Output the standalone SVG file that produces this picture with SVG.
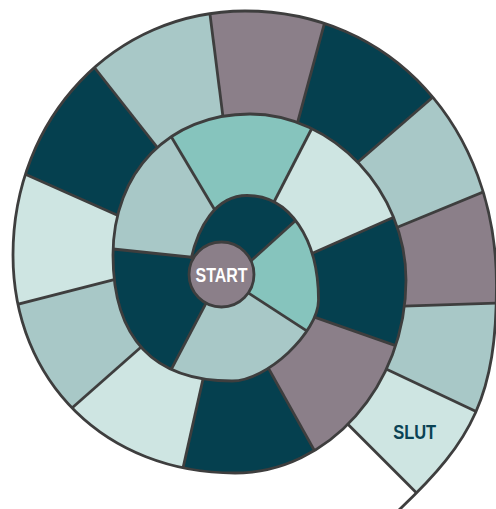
<svg xmlns="http://www.w3.org/2000/svg" width="496" height="509" viewBox="0 0 496 509">
<style>
.dk{fill:#05404f}.tl{fill:#86c4bd}.gt{fill:#a8c8c7}.lt{fill:#cee5e2}.mv{fill:#8b7f89}
.ln{stroke:#3e3e3e;stroke-width:2.8;fill:none;stroke-linejoin:round}
.lbl{font-family:"Liberation Sans",Arial,sans-serif;font-weight:bold;text-anchor:middle}
</style>
<defs>
<clipPath id="c1"><path d="M191,259 C198,228 215,195.5 247,195.5 C289.2,195.5 318.5,238.3 318.5,300 C318.5,332.4 266.6,381 232,381 C153.5,381 113,338.2 113,255 L113,249 L190,257 Z"/></clipPath>
<clipPath id="c2"><path d="M113,255 C113,171.9 169.3,114 250,114 C333.2,114 406,191.5 406,280 C406,385.6 328.5,473 235,473 C106,473 13,381.7 13,255 Z"/></clipPath>
<clipPath id="c3"><path d="M347.9,424.2 C317.6,454.5 278,473 235,473 C106,473 13,381.7 13,255 C13,117.6 114.4,11 245,11 C390.4,11 496.5,126.6 496.5,285 C496.5,386.2 476.6,432.6 416.6,492.9 Z"/></clipPath>
</defs>
<g id="ring3" clip-path="url(#c3)">
<polygon id="t13" class="lt" points="221.5,274.5 131.8,275.2 -263,376 -251,51 135.4,223.2"/>
<polygon id="t14" class="dk" points="221.5,274.5 135.4,223.2 -251,51 -95,-173 169.6,163"/>
<polygon id="t15" class="gt" points="221.5,274.5 169.6,163 -95,-173 171,-295 225.6,137.6"/>
<polygon id="t16" class="mv" points="221.5,274.5 225.6,137.6 171,-295 402,-263 292.8,140.2"/>
<polygon id="t17" class="dk" points="221.5,274.5 292.8,140.2 402,-263 658,-98 343,175"/>
<polygon id="t18" class="gt" points="221.5,274.5 343,175 658,-98 738,87 381,234"/>
<polygon id="t19" class="mv" points="221.5,274.5 381,234 738,87 766,294 388,306.6"/>
<polygon id="t20" class="gt" points="221.5,274.5 388,306.6 766,294 744,538 370.2,361.6"/>
<polygon id="t21" class="lt" points="221.5,274.5 370.2,361.6 744,538 622.7,699 334.2,410.5"/>
<g class="ln">
<line x1="135.4" y1="223.2" x2="11.2" y2="167.9"/>
<line x1="169.6" y1="163" x2="84.55" y2="55"/>
<line x1="225.6" y1="137.6" x2="208" y2="-1.5"/>
<line x1="292.8" y1="140.2" x2="327.9" y2="10.6"/>
<line x1="343" y1="175" x2="444.3" y2="87.3"/>
<line x1="381" y1="234" x2="495.8" y2="186.8"/>
<line x1="388" y1="306.6" x2="509.5" y2="302.6"/>
<line x1="370.2" y1="361.6" x2="490.4" y2="418.3"/>
</g>
</g>
<g id="ring2" clip-path="url(#c2)">
<polygon id="t5" class="gt" points="221.5,274.5 205.4,258.6 -118,225 49,-69 221.2,220.8"/>
<polygon id="t6" class="tl" points="221.5,274.5 221.2,220.8 49,-69 419,-80 267.8,214"/>
<polygon id="t7" class="lt" points="221.5,274.5 267.8,214 419,-80 629,113 297.2,260"/>
<polygon id="t8" class="dk" points="221.5,274.5 297.2,260 629,113 625,426 301.6,312.6"/>
<polygon id="t9" class="mv" points="221.5,274.5 301.6,312.6 625,426 442,679 261.4,355.6"/>
<polygon id="t10" class="dk" points="221.5,274.5 261.4,355.6 442,679 123,735 207,361.2"/>
<polygon id="t11" class="lt" points="221.5,274.5 207,361.2 123,735 -132,588 153.6,336"/>
<polygon id="t12" class="gt" points="221.5,274.5 153.6,336 -132,588 -263,376 131.8,275.2"/>
<g class="ln">
<line x1="221.2" y1="220.8" x2="165.9" y2="127.7"/>
<line x1="267.8" y1="214" x2="316.4" y2="119.5"/>
<line x1="297.2" y1="260" x2="403.9" y2="212.8"/>
<line x1="301.6" y1="312.6" x2="405.6" y2="349.1"/>
<line x1="261.4" y1="355.6" x2="319.5" y2="459.6"/>
<line x1="207" y1="361.2" x2="180" y2="481.4"/>
<line x1="153.6" y1="336" x2="61.8" y2="417"/>
<line x1="131.8" y1="275.2" x2="4.9" y2="307.6"/>
</g>
</g>
<g id="ring1" clip-path="url(#c1)">
<polygon id="t1" class="dk" points="221.5,274.5 205.4,258.6 -118,225 424,104 243.4,267.8"/>
<polygon id="t2" class="tl" points="221.5,274.5 243.4,267.8 424,104 478,442 238.6,286.6"/>
<polygon id="t3" class="gt" points="221.5,274.5 238.6,286.6 478,442 76,551 210.4,294.8"/>
<polygon id="t4" class="dk" points="221.5,274.5 210.4,294.8 76,551 -118,225 205.4,258.6"/>
<g class="ln">
<line x1="243.4" y1="267.8" x2="301.5" y2="215.2"/>
<line x1="238.6" y1="286.6" x2="315.6" y2="336.6"/>
<line x1="210.4" y1="294.8" x2="167.2" y2="377.2"/>
</g>
</g>
<g id="connectors" class="ln">
<line x1="194" y1="257.5" x2="113" y2="249"/>
<line x1="347.9" y1="424.2" x2="416.6" y2="492.9"/>
<path d="M191,259 C198,228 215,195.5 247,195.5 C289.2,195.5 318.5,238.3 318.5,300 C318.5,332.4 266.6,381 232,381 C153.5,381 113,338.2 113,255 C113,171.9 169.3,114 250,114 C333.2,114 406,191.5 406,280 C406,385.6 328.5,473 235,473 C106,473 13,381.7 13,255 C13,117.6 114.4,11 245,11 C390.4,11 496.5,126.6 496.5,285 C496.5,395 473,440.3 400,509 L385,523"/>
</g>
<g id="start">
<circle cx="221.5" cy="274.5" r="32.5" class="mv" stroke="#3e3e3e" stroke-width="2.8"/>
<text class="lbl" x="221.5" y="281.6" font-size="21" fill="#ffffff" textLength="52" lengthAdjust="spacingAndGlyphs">START</text>
</g>
<g id="slut">
<text class="lbl" x="414.7" y="439.3" font-size="19.5" fill="#0a4254" textLength="43" lengthAdjust="spacingAndGlyphs">SLUT</text>
</g>
</svg>
